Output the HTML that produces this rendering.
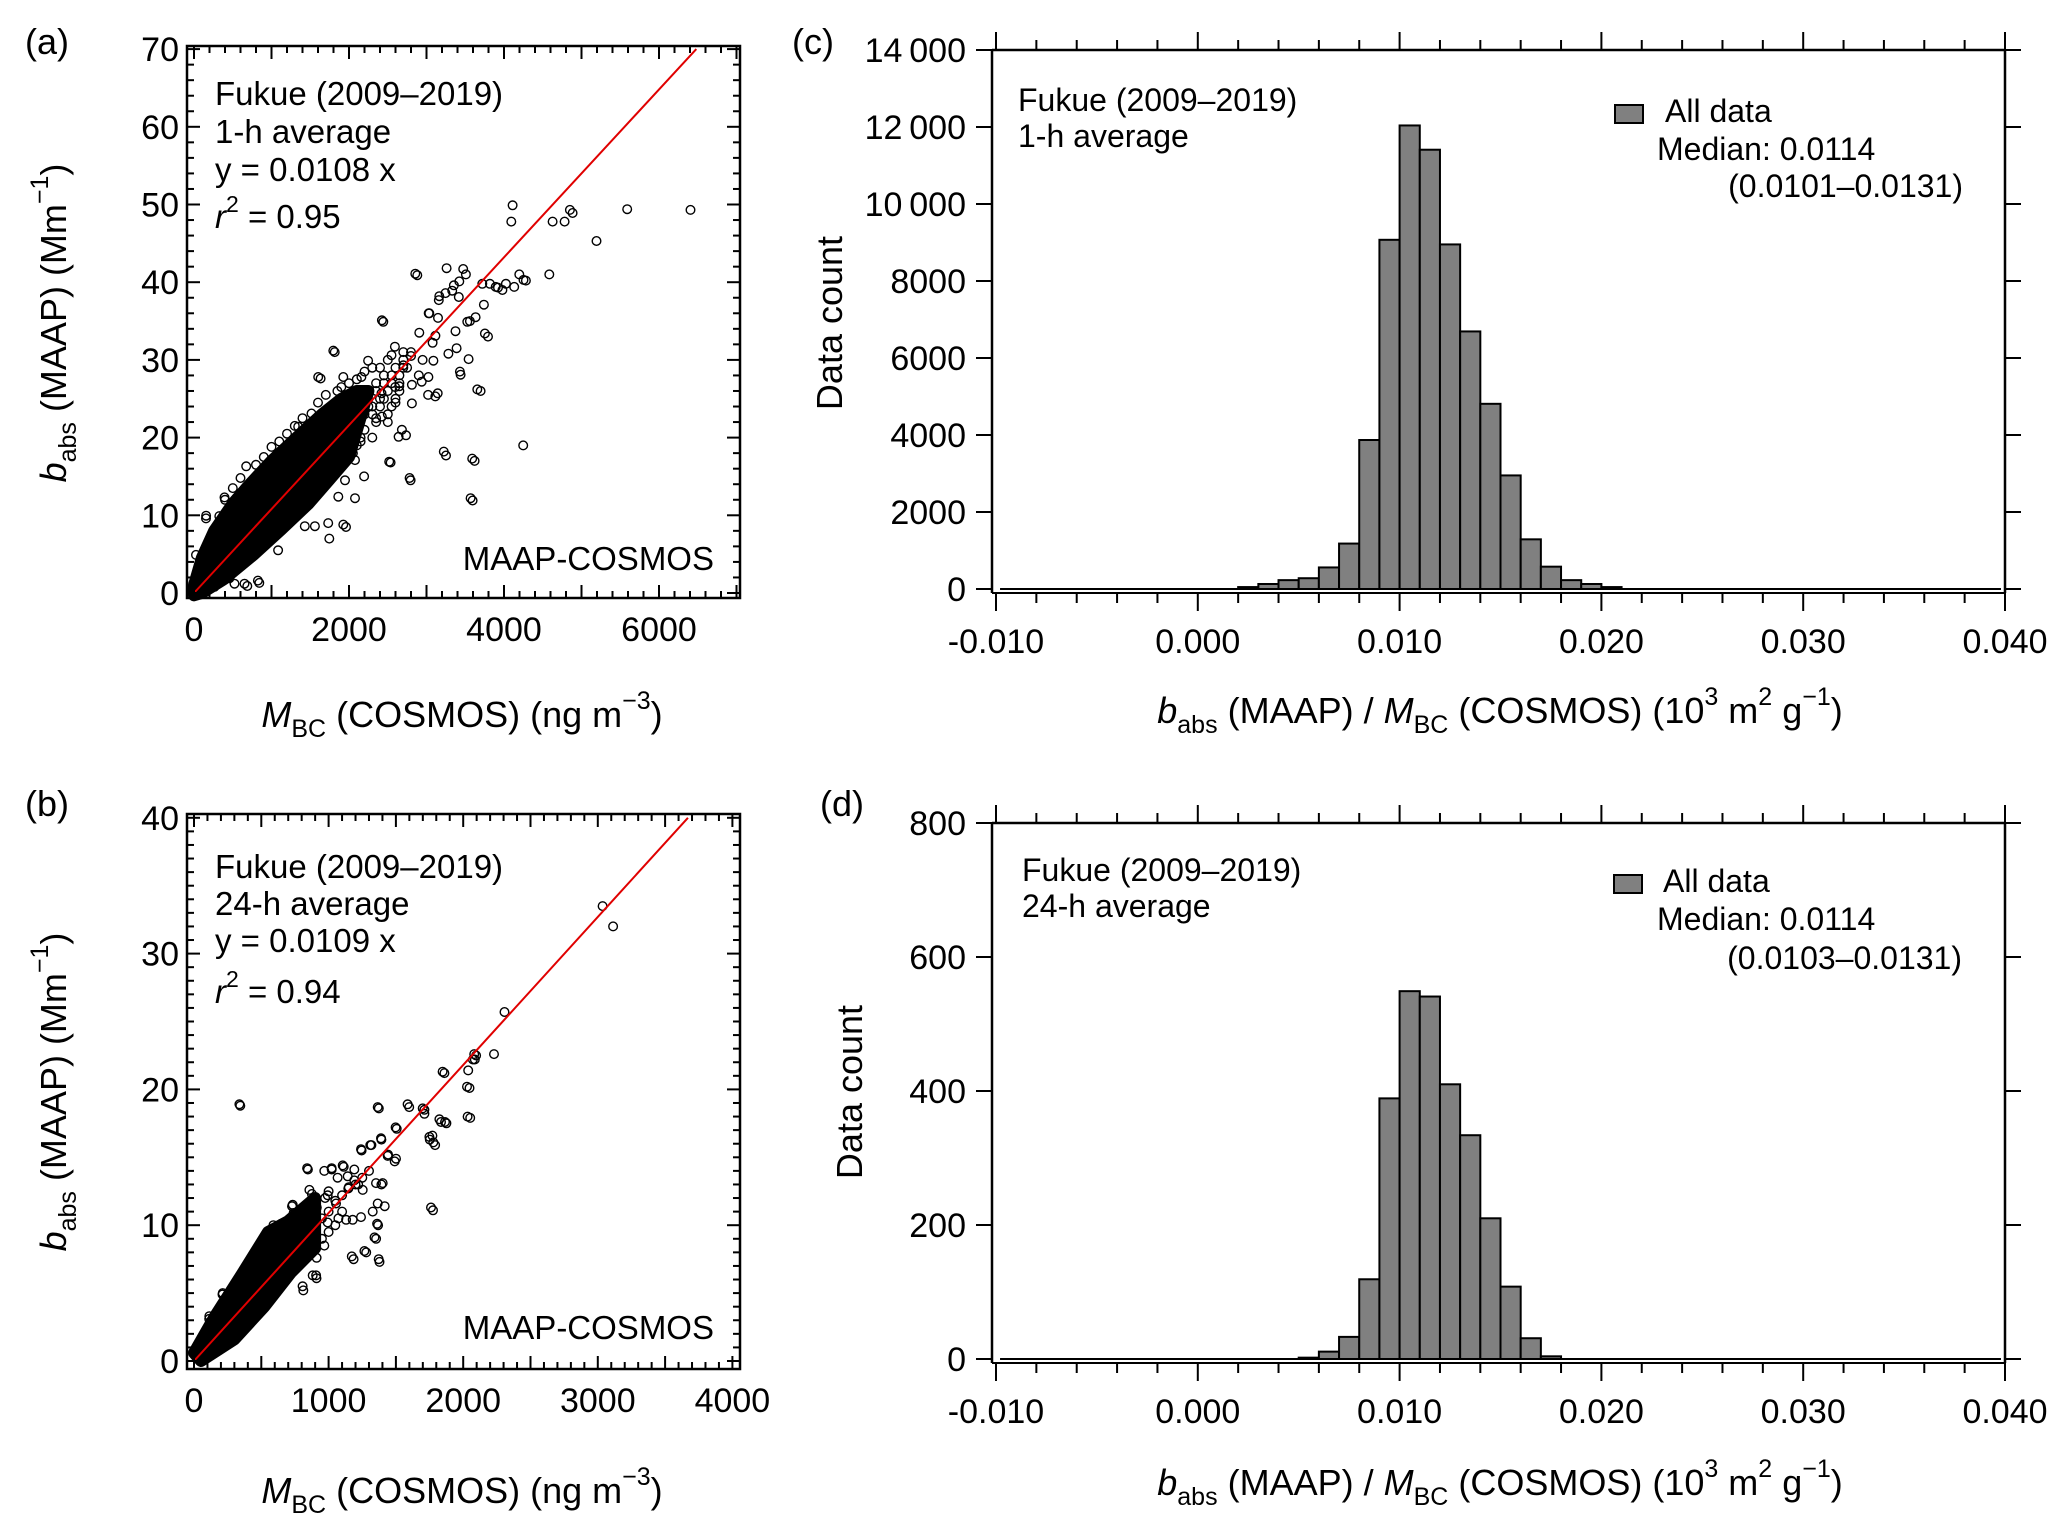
<!DOCTYPE html>
<html><head><meta charset="utf-8"><style>
html,body{margin:0;padding:0;background:#fff}
svg{display:block;font-family:"Liberation Sans",Arial,sans-serif}
</style></head><body>
<svg id="fig" width="2067" height="1527" viewBox="0 0 2067 1527" xmlns="http://www.w3.org/2000/svg">
<rect width="2067" height="1527" fill="#fff"/>
<g id="pa"></g>
<g id="pb"></g>
<g id="pc"></g>
<g id="pd"></g>
</svg>
<script>
// ---------- DATA ----------
const aCoreX = [0,100,260,500,700,1000,1300,1650,1900,2100,2250,2000,1740,1480,1130,780,390,100,0];
const aCoreY = [1,4.5,8,11.5,13.8,17,19.8,23,25,26,26,17.5,14.5,11.5,8.2,5,1.8,0,-0.3];
const aPtsX = [4111,4094,4627,4782,4850,4885,5590,6407,5194,4584,4197,4283,2881,3259,3509,4025,3818,3922,3793,3698,3440,3543,3560,3148,2442,1815,1634,2649,2735,2795,2537,3251,3621,3595,4248,3741,3423,3165,3036,2907,3079,3388,3113,1961,1746,688,843,155,327,
 2856,3474,2424,1798,1603,3590,3223,3569,2782,2519,3020,3145,3656,3431,3754,3526,3634,393,674,156,1344,1516,1927,2160,2246,2549,2592,2700,2938,3024,3089,3283,3374,3115,3029,3245,3331,3417,3353,3159,3893,3979,4131,4252,3720,1732,1927,1560,1430,2078,2195,1948,1862,2078,2683,2640,2424,2246,2419,2596,2812,2812,1085,825,652,458,523,264,26,
 2000,2050,2100,2150,2200,2250,2300,2350,2400,2450,2500,2550,2600,2650,2700,2750,2800,2300,2150,2000,2500,1950,2050,2350,2600,2900,2950,
 2300,2350,2400,2450,2500,2550,2600,2650,2700,2200,2250,2350,2450,2550,2650,2100,2150,2050,1800,1700,1600,1500,1400,1300,1200,1100,1000,900,800,600,400,300,1900,1850,2100,2000,2200,2300,2400,2500,2700,2800,1300,1400,1200,1100,1000,900,800,600,500,400,200,1600,1700];
const aPtsY = [49.9,47.8,47.8,47.8,49.3,48.9,49.4,49.3,45.3,41.0,41.0,40.2,40.9,41.8,41.0,39.8,39.8,39.3,33,26,28.1,30.1,35,35.4,34.9,31,27.6,26.6,20.3,14.5,16.8,17.7,17,11.9,19,37.1,40.1,38.2,36,33.5,32.2,31.5,25.3,8.5,7,0.9,1.3,9.6,9.9,
 41.1,41.7,35.1,31.2,27.8,17.3,18.2,12.2,14.8,16.9,25.5,25.7,26.2,28.5,33.4,34.9,35.5,12.3,16.3,9.95,21.4,23.1,27.8,27.8,29.9,30.6,31.7,29.3,27.2,27.8,29.9,30.8,33.7,33.1,36,38.6,38.9,38.1,39.6,37.7,39.4,39,39.4,40.3,39.8,9.0,8.8,8.6,8.6,12.2,15,14.5,12.4,17.1,21,20.1,22.7,24.9,25.7,26.5,26.8,24.4,5.5,1.6,1.2,1.9,1.2,0.8,4.9,
 22,24,21,25,23,26,24,27,25,28,26,27,29,28,30,29,31,20,19.5,18.5,22,21.5,20.5,22.5,24.5,28,30,
 23,26,24,27,23,28,25,27,29,21,24,22,25,24,26,19,20,18,15.5,14,13,12,11,10,9,8,7,6.5,5.5,3.5,2.3,1.7,26.5,26,27.5,27,28.5,29,29,30,31,30.5,21.5,22.5,20.5,19.5,18.8,17.5,16.5,14.8,13.5,12,6.5,24.5,25.5];
const aSlope = 0.0108;

const bCoreX = [0,150,350,550,700,900,900,720,522,300,52];
const bCoreY = [0.6,3.2,6.3,9.5,10.3,12,8.3,6.5,4.0,1.6,0];
const bPtsX = [344,3036,3114,2307,2229,2096,2086,1860,2037,2047,2052,1835,1875,1712,1712,1599,1373,1506,1771,1752,1791,1776,1186,1279,1378,1353,1368,910,812,846,1023,1112,1245,1318,1392,1442,1491,1220,1146,1392,1417,974,876,1073,728,753,590,531,212,113,
 840,968,1023,1105,1241,1310,1365,1587,1699,1847,1823,1865,2028,2033,1761,1749,1778,1498,1389,1439,1501,1402,1352,1365,1328,1360,1341,1372,1266,1172,1241,1179,1130,1055,1191,1191,1253,1142,1067,993,857,733,740,993,912,807,882,907,968,911,795,647,622,511,449,337,213,114,126,2082,2072,
 1000,1050,950,1100,1150,1000,950,1050,1200,900,850,800,1250,1300,1100,1000];
const bPtsY = [18.8,33.5,32,25.7,22.6,22.5,22.2,21.2,21.4,20.1,17.9,17.6,17.5,18.5,18.2,18.7,18.6,17.1,16.6,16.3,15.9,11.1,7.5,8.0,7.3,9.0,10.0,6.1,5.2,14.1,14.1,14.3,15.5,15.9,16.3,15.2,14.7,13,12.7,13,11.4,12,12.3,10.5,11.4,9.6,10,8,4.9,3.1,
 14.2,14,14.2,14.4,15.6,15.9,18.7,18.9,18.6,21.3,17.8,17.6,20.2,18,11.3,16.5,16.1,17.2,16.4,15.1,14.9,13.1,13.1,11.6,11,10.1,9.1,7.5,8.1,7.7,10.6,10.4,10.4,11.6,14.1,13.3,12.6,13.6,13.5,12.2,12.6,11.5,10.9,10.2,11.3,5.5,6.3,6.3,8.5,7.6,8.7,10.1,9.7,8.2,7.8,18.9,5.0,3.3,0.6,22.6,22.2,
 11,11.8,10.5,12.2,12.8,9.5,9,10,13,9.8,9.5,9.2,13.5,14,11,12.5];
const bSlope = 0.0109;

const cBins = [0.002,0.003,0.004,0.005,0.006,0.007,0.008,0.009,0.010,0.011,0.012,0.013,0.014,0.015,0.016,0.017,0.018,0.019,0.020];
const cCounts = [50,130,230,280,560,1180,3870,9070,12040,11410,8950,6690,4810,2950,1290,580,230,130,50];
const dBins = [0.005,0.006,0.007,0.008,0.009,0.010,0.011,0.012,0.013,0.014,0.015,0.016,0.017];
const dCounts = [2,11,33,119,389,549,541,410,334,210,108,31,4];
const binWidth = 0.001;

const xTicksC = [-0.010,0.000,0.010,0.020,0.030,0.040];
const xTickLabelsC = ["-0.010","0.000","0.010","0.020","0.030","0.040"];
const yTicksC = [0,2000,4000,6000,8000,10000,12000,14000];
const yTickLabelsC = ["0","2000","4000","6000","8000","10\u2009000","12\u2009000","14\u2009000"];
const yTicksD = [0,200,400,600,800];
const yTickLabelsD = ["0","200","400","600","800"];
const xTicksA = [0,2000,4000,6000];
const yTicksA = [0,10,20,30,40,50,60,70];
const xTicksB = [0,1000,2000,3000,4000];
const yTicksB = [0,10,20,30,40];

// ---------- HELPERS ----------
const NS = "http://www.w3.org/2000/svg";
function mk(parent, tag, attrs){
  const e = document.createElementNS(NS, tag);
  for (const k in attrs) e.setAttribute(k, attrs[k]);
  parent.appendChild(e);
  return e;
}
function line(g,x1,y1,x2,y2,w,c){
  return mk(g,"line",{x1:x1,y1:y1,x2:x2,y2:y2,stroke:c||"#000","stroke-width":w||2});
}
function txt(g,x,y,s,size,anchor){
  const t = mk(g,"text",{x:x,y:y,"font-size":size||34,"text-anchor":anchor||"start",fill:"#000"});
  t.textContent = s;
  return t;
}

// ---------- SCATTER PANELS ----------
function scatter(g, cfg){
  const sx = v => cfg.x0 + v*cfg.kx;
  const sy = v => cfg.y0 - v*cfg.ky;
  let d = "";
  cfg.coreX.forEach((v,i)=>{ d += (i?"L":"M") + sx(v).toFixed(1) + "," + sy(cfg.coreY[i]).toFixed(1); });
  const core = mk(g,"path",{d:d+"Z",fill:"#000",stroke:"#000","stroke-width":12,"stroke-linejoin":"round"});
  
  
  cfg.ptsX.forEach((v,i)=>{
    const c = mk(g,"circle",{cx:sx(v).toFixed(1),cy:sy(cfg.ptsY[i]).toFixed(1),r:4.3,fill:"none",stroke:"#000","stroke-width":1.4});
    
    
  });
  const xe = cfg.yMaxLine / cfg.slope;
  const rl = line(g, sx(0), sy(0), sx(xe), sy(cfg.slope*xe), 2, "#e00000");
  
  
  const fr = mk(g,"rect",{x:cfg.L,y:cfg.T,width:cfg.R-cfg.L,height:cfg.B-cfg.T,fill:"none",stroke:"#000","stroke-width":2.5});
  
  
  for (let v=0; sx(v)<cfg.R-2; v+=cfg.xMinor){
    const major = Math.abs(v % cfg.xMajor) < 1e-6;
    const len = major?13:7;
    line(g,sx(v),cfg.B,sx(v),cfg.B-len,2);
    line(g,sx(v),cfg.T,sx(v),cfg.T+len,2);
  }
  for (let v=0; sy(v)>cfg.T+2; v+=cfg.yMinor){
    const major = Math.abs(v % cfg.yMajor) < 1e-6;
    const len = major?13:7;
    line(g,cfg.L,sy(v),cfg.L+len,sy(v),2);
    line(g,cfg.R,sy(v),cfg.R-len,sy(v),2);
  }
  cfg.xTicks.forEach(v=>{
    const t = txt(g,sx(v),cfg.B+43,String(v),34,"middle");
    
    
  });
  cfg.yTicks.forEach(v=>{
    const t = txt(g,cfg.L-8,sy(v)+12,String(v),34,"end");
    
    
  });
}

scatter(document.getElementById("pa"),{x0:194,kx:0.0775,y0:593,ky:7.77,L:187,R:740,T:46,B:598,coreX:aCoreX,coreY:aCoreY,ptsX:aPtsX,ptsY:aPtsY,slope:aSlope,yMaxLine:70,xMinor:200,xMajor:1000,yMinor:2,yMajor:10,xTicks:xTicksA,yTicks:yTicksA});
scatter(document.getElementById("pb"),{x0:194,kx:0.1346,y0:1361,ky:13.58,L:187,R:740,T:814,B:1369,coreX:bCoreX,coreY:bCoreY,ptsX:bPtsX,ptsY:bPtsY,slope:bSlope,yMaxLine:40,xMinor:100,xMajor:500,yMinor:1,yMajor:10,xTicks:xTicksB,yTicks:yTicksB});

// ---------- HISTOGRAMS ----------
function hist(g,cfg){
  const sx = v => 996 + (v+0.01)*20180;
  const sy = v => cfg.y0 - v*cfg.ky;
  const L=992, R=2005;
  const zl = line(g,sx(-0.0098),sy(0),sx(0.0398),sy(0),2);
  
  
  line(g,L,sy(0)+4,R,sy(0)+4,2);
  cfg.bins.forEach((b,i)=>{
    const x1 = sx(b), x2 = sx(b+binWidth);
    const r = mk(g,"rect",{x:x1,y:sy(cfg.counts[i]),width:x2-x1,height:sy(0)-sy(cfg.counts[i]),fill:"#808080",stroke:"#000","stroke-width":2});
    
    
  });
  line(g,L,cfg.T,L,sy(0)+4,2.5);
  line(g,R,cfg.T,R,sy(0)+4,2.5);
  line(g,L,cfg.T,R,cfg.T,2.5);
  for (let k=0;k<=25;k++){
    const v = -0.01 + k*0.002;
    const major = k%5===0;
    const x = sx(v);
    line(g,x,sy(0)+4,x,sy(0)+4+(major?18:10),2);
    line(g,x,cfg.T,x,cfg.T-(major?18:10),2);
  }
  cfg.yTicks.forEach((v,i)=>{
    line(g,L,sy(v),L-16,sy(v),2);
    line(g,R,sy(v),R+16,sy(v),2);
    const t = txt(g,L-26,sy(v)+12,cfg.yLabels[i],34,"end");
    
    
  });
  xTicksC.forEach((v,i)=>{
    const t = txt(g,sx(v),sy(0)+64,xTickLabelsC[i],34,"middle");
    
    
  });
}
hist(document.getElementById("pc"),{y0:589,ky:539/14000,T:50,bins:cBins,counts:cCounts,yTicks:yTicksC,yLabels:yTickLabelsC});
hist(document.getElementById("pd"),{y0:1359,ky:536/800,T:823,bins:dBins,counts:dCounts,yTicks:yTicksD,yLabels:yTickLabelsD});
</script>

<svg width="2067" height="1527" style="position:absolute;left:0;top:0" xmlns="http://www.w3.org/2000/svg" font-family="Liberation Sans, Arial, sans-serif">
  <text x="25" y="54" font-size="36">(a)</text>
  <text x="792" y="54" font-size="36">(c)</text>
  <text x="25" y="816" font-size="36">(b)</text>
  <text x="820" y="816" font-size="36">(d)</text>

  <g font-size="33">
    <text x="215" y="105">Fukue (2009–2019)</text>
    <text x="215" y="143">1-h average</text>
    <text x="215" y="181">y = 0.0108 x</text>
    <text x="215" y="228"><tspan font-style="italic">r</tspan><tspan font-size="23" dy="-16">2</tspan><tspan dy="16"> = 0.95</tspan></text>
    <text x="714" y="570" text-anchor="end">MAAP-COSMOS</text>
  </g>
  <g font-size="33">
    <text x="215" y="878">Fukue (2009–2019)</text>
    <text x="215" y="915">24-h average</text>
    <text x="215" y="952">y = 0.0109 x</text>
    <text x="215" y="1003"><tspan font-style="italic">r</tspan><tspan font-size="23" dy="-16">2</tspan><tspan dy="16"> = 0.94</tspan></text>
    <text x="714" y="1339" text-anchor="end">MAAP-COSMOS</text>
  </g>

  <text x="462" y="727" font-size="36" text-anchor="middle"><tspan font-style="italic">M</tspan><tspan font-size="25" dy="10">BC</tspan><tspan dy="-10"> (COSMOS) (ng m</tspan><tspan font-size="25" dy="-18">−3</tspan><tspan dy="18">)</tspan></text>
  <text x="462" y="1503" font-size="36" text-anchor="middle"><tspan font-style="italic">M</tspan><tspan font-size="25" dy="10">BC</tspan><tspan dy="-10"> (COSMOS) (ng m</tspan><tspan font-size="25" dy="-18">−3</tspan><tspan dy="18">)</tspan></text>
  <text transform="translate(66,323) rotate(-90)" font-size="36" text-anchor="middle"><tspan font-style="italic">b</tspan><tspan font-size="25" dy="10">abs</tspan><tspan dy="-10"> (MAAP) (Mm</tspan><tspan font-size="25" dy="-18">−1</tspan><tspan dy="18">)</tspan></text>
  <text transform="translate(66,1092) rotate(-90)" font-size="36" text-anchor="middle"><tspan font-style="italic">b</tspan><tspan font-size="25" dy="10">abs</tspan><tspan dy="-10"> (MAAP) (Mm</tspan><tspan font-size="25" dy="-18">−1</tspan><tspan dy="18">)</tspan></text>

  <g font-size="32">
    <text x="1018" y="111">Fukue (2009–2019)</text>
    <text x="1018" y="147">1-h average</text>
  </g>
  <g>
    <rect x="1615" y="105" width="28" height="18" fill="#808080" stroke="#000" stroke-width="2"/>
    <text x="1665" y="122" font-size="32">All data</text>
    <text x="1657" y="160" font-size="32">Median: 0.0114</text>
    <text x="1963" y="197" font-size="32" text-anchor="end">(0.0101–0.0131)</text>
  </g>
  <g font-size="32">
    <text x="1022" y="881">Fukue (2009–2019)</text>
    <text x="1022" y="917">24-h average</text>
  </g>
  <g>
    <rect x="1614" y="875" width="28" height="18" fill="#808080" stroke="#000" stroke-width="2"/>
    <text x="1663" y="892" font-size="32">All data</text>
    <text x="1657" y="930" font-size="32">Median: 0.0114</text>
    <text x="1962" y="969" font-size="32" text-anchor="end">(0.0103–0.0131)</text>
  </g>

  <text transform="translate(842,323) rotate(-90)" font-size="36" text-anchor="middle">Data count</text>
  <text transform="translate(862,1092) rotate(-90)" font-size="36" text-anchor="middle">Data count</text>

  <text x="1500" y="723" font-size="36" text-anchor="middle"><tspan font-style="italic">b</tspan><tspan font-size="25" dy="10">abs</tspan><tspan dy="-10"> (MAAP) / </tspan><tspan font-style="italic">M</tspan><tspan font-size="25" dy="10">BC</tspan><tspan dy="-10"> (COSMOS) (10</tspan><tspan font-size="25" dy="-18">3</tspan><tspan dy="18"> m</tspan><tspan font-size="25" dy="-18">2</tspan><tspan dy="18"> g</tspan><tspan font-size="25" dy="-18">−1</tspan><tspan dy="18">)</tspan></text>
  <text x="1500" y="1495" font-size="36" text-anchor="middle"><tspan font-style="italic">b</tspan><tspan font-size="25" dy="10">abs</tspan><tspan dy="-10"> (MAAP) / </tspan><tspan font-style="italic">M</tspan><tspan font-size="25" dy="10">BC</tspan><tspan dy="-10"> (COSMOS) (10</tspan><tspan font-size="25" dy="-18">3</tspan><tspan dy="18"> m</tspan><tspan font-size="25" dy="-18">2</tspan><tspan dy="18"> g</tspan><tspan font-size="25" dy="-18">−1</tspan><tspan dy="18">)</tspan></text>
</svg>
</body></html>
